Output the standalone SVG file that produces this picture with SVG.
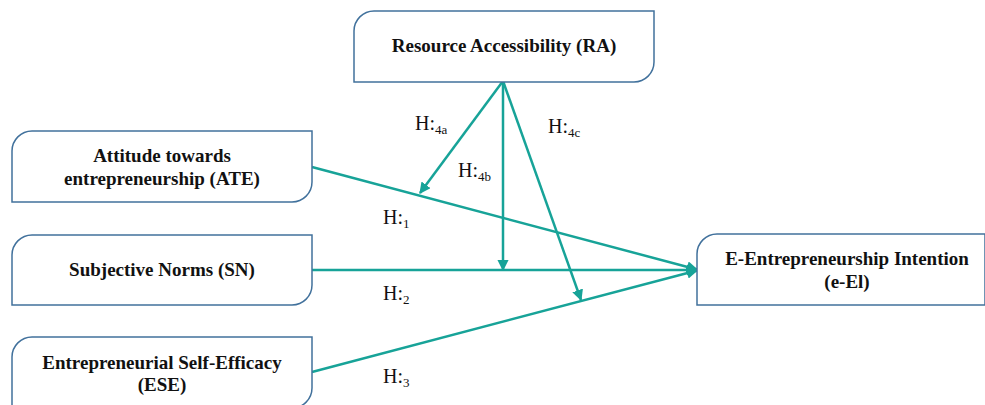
<svg xmlns="http://www.w3.org/2000/svg" width="985" height="405" viewBox="0 0 985 405">
<style>
.box{fill:#fff;stroke:#41719C;stroke-width:1.5}
.t{font-family:"Liberation Serif","Times New Roman",serif;font-weight:700;font-size:19px;fill:#111;text-anchor:middle}
.h{font-family:"Liberation Serif","Times New Roman",serif;font-size:20px;fill:#111}
.s{font-size:13px}
.c{stroke:#17A398;stroke-width:2.5;fill:none}
</style>
<defs>
<marker id="a" viewBox="0 0 10 10" refX="9" refY="5" markerWidth="4.5" markerHeight="4.5" orient="auto" markerUnits="strokeWidth">
<path d="M0,0 L10,5 L0,10 z" fill="#17A398"/>
</marker>
</defs>
<rect width="985" height="405" fill="#fff"/>
<g id="connectors">
<line class="c" x1="312" y1="167" x2="697" y2="269.5" marker-end="url(#a)"/>
<line class="c" x1="312" y1="270" x2="697" y2="270" marker-end="url(#a)"/>
<line class="c" x1="312" y1="372" x2="697" y2="270.5" marker-end="url(#a)"/>
<line class="c" x1="503" y1="81" x2="420" y2="193" marker-end="url(#a)"/>
<line class="c" x1="503" y1="81" x2="503" y2="270" marker-end="url(#a)"/>
<line class="c" x1="503" y1="81" x2="581" y2="300" marker-end="url(#a)"/>
</g>
<g id="RA">
<path class="box" d="M374,11 H654 V62 A20,20 0 0 1 634,82 H354 V31 A20,20 0 0 1 374,11 z"/>
<text class="t" x="504" y="52">Resource Accessibility (RA)</text>
</g>
<g id="ATE">
<path class="box" d="M32,131 H312 V182 A20,20 0 0 1 292,202 H12 V151 A20,20 0 0 1 32,131 z"/>
<text class="t" x="162" y="162">Attitude towards</text>
<text class="t" x="162" y="185">entrepreneurship (ATE)</text>
</g>
<g id="SN">
<path class="box" d="M32,235 H312 V285 A20,20 0 0 1 292,305 H12 V255 A20,20 0 0 1 32,235 z"/>
<text class="t" x="162" y="276">Subjective Norms (SN)</text>
</g>
<g id="ESE">
<path class="box" d="M32,337 H312 V388 A20,20 0 0 1 292,408 H12 V357 A20,20 0 0 1 32,337 z"/>
<text class="t" x="162" y="369">Entrepreneurial Self-Efficacy</text>
<text class="t" x="162" y="391">(ESE)</text>
</g>
<g id="eEI">
<path class="box" d="M717,234 H985 V305 H697 V254 A20,20 0 0 1 717,234 z"/>
<text class="t" x="847" y="265">E-Entrepreneurship Intention</text>
<text class="t" x="847" y="288">(e-El)</text>
</g>
<g id="labels">
<text class="h" x="415" y="130">H:<tspan class="s" dy="4">4a</tspan></text>
<text class="h" x="458" y="177">H:<tspan class="s" dy="4">4b</tspan></text>
<text class="h" x="548" y="133">H:<tspan class="s" dy="4">4c</tspan></text>
<text class="h" x="383" y="224">H:<tspan class="s" dy="4">1</tspan></text>
<text class="h" x="383" y="300">H:<tspan class="s" dy="4">2</tspan></text>
<text class="h" x="383" y="383">H:<tspan class="s" dy="4">3</tspan></text>
</g>
</svg>
